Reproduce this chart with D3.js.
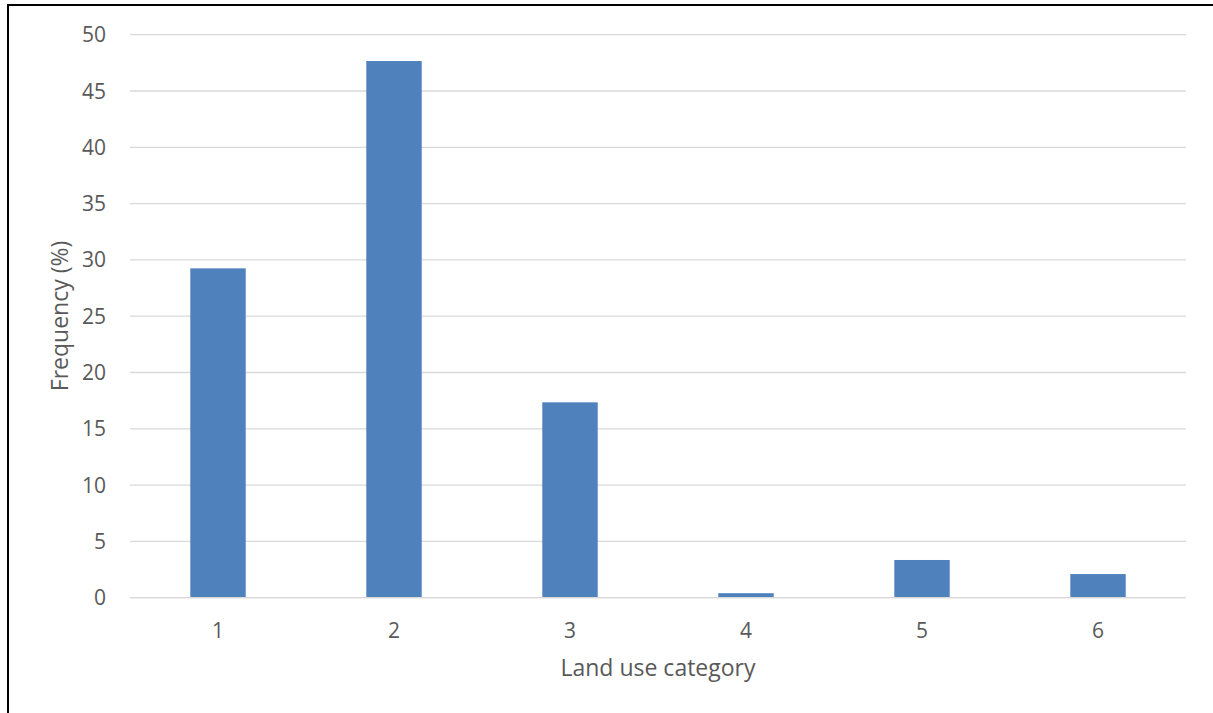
<!DOCTYPE html>
<html>
<head>
<meta charset="utf-8">
<script src="https://cdn.jsdelivr.net/npm/d3@7"></script>
<style>
  html, body { margin: 0; padding: 0; background: #fff; overflow: hidden; }
  svg { display: block; }
</style>
</head>
<body>
<svg id="chart" width="1213" height="713"></svg>
<script>
// Land use frequency distribution
const categories = ["1", "2", "3", "4", "5", "6"];
const frequency = [29.25, 47.66, 17.35, 0.4, 3.35, 2.1];
const yTicks = [0, 5, 10, 15, 20, 25, 30, 35, 40, 45, 50];

const W = 1213, H = 713;
const margin = { left: 130, right: 27, top: 34.7, bottom: 115.3 };
const svg = d3.select("#chart");
const fontFamily = "'Open Sans', 'Noto Sans', sans-serif";

// outer frame (extends past the right and bottom edges)
svg.append("rect")
  .attr("x", 8).attr("y", 5)
  .attr("width", W + 20).attr("height", H + 20)
  .attr("fill", "none").attr("stroke", "#000").attr("stroke-width", 2);

const x = d3.scaleBand()
  .domain(categories)
  .range([margin.left, W - margin.right])
  .paddingInner(0.685).paddingOuter(0.3425);

const y = d3.scaleLinear()
  .domain([0, 50])
  .range([H - margin.bottom, margin.top]);

// horizontal gridlines
svg.append("g")
  .selectAll("line")
  .data(yTicks)
  .join("line")
  .attr("x1", margin.left).attr("x2", W - margin.right)
  .attr("y1", d => y(d)).attr("y2", d => y(d))
  .attr("stroke", "#d9d9d9").attr("stroke-width", 1.3);

// y tick labels
svg.append("g")
  .selectAll("text")
  .data(yTicks)
  .join("text")
  .attr("x", 106).attr("y", d => y(d))
  .attr("dy", "0.36em")
  .attr("text-anchor", "end")
  .attr("font-family", fontFamily).attr("font-size", 21)
  .attr("fill", "#595959")
  .text(d => d);

// bars
svg.append("g")
  .selectAll("rect")
  .data(frequency)
  .join("rect")
  .attr("x", (d, i) => x(categories[i]))
  .attr("width", x.bandwidth())
  .attr("y", d => y(d))
  .attr("height", d => y(0) - y(d))
  .attr("fill", "#4f81bd");

// x-axis baseline
svg.append("line")
  .attr("x1", margin.left).attr("x2", W - margin.right)
  .attr("y1", y(0)).attr("y2", y(0))
  .attr("stroke", "#d9d9d9").attr("stroke-width", 1.3);

// x tick labels
svg.append("g")
  .selectAll("text")
  .data(categories)
  .join("text")
  .attr("x", d => x(d) + x.bandwidth() / 2)
  .attr("y", 638)
  .attr("text-anchor", "middle")
  .attr("font-family", fontFamily).attr("font-size", 21)
  .attr("fill", "#595959")
  .text(d => d);

// axis titles
svg.append("text")
  .attr("x", 658).attr("y", 676)
  .attr("text-anchor", "middle")
  .attr("font-family", fontFamily).attr("font-size", 23)
  .attr("fill", "#595959")
  .text("Land use category");

svg.append("text")
  .attr("transform", "translate(68,316) rotate(-90)")
  .attr("text-anchor", "middle")
  .attr("font-family", fontFamily).attr("font-size", 23)
  .attr("fill", "#595959")
  .text("Frequency (%)");
</script>
</body>
</html>
